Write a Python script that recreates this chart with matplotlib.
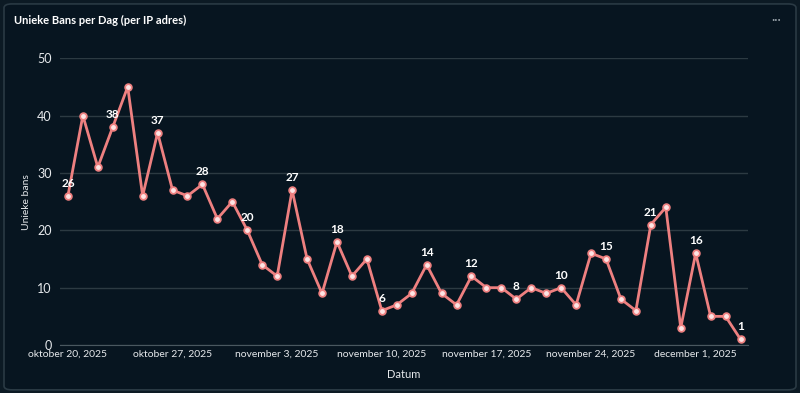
import datetime as dt
import matplotlib
matplotlib.use("Agg")
import matplotlib.pyplot as plt
from matplotlib.patches import FancyBboxPatch

plt.rcParams['font.family'] = ['Lato', 'DejaVu Sans']

start = dt.datetime(2025, 10, 20)
bans = [26, 40, 31, 38, 45, 26, 37, 27, 26, 28, 22, 25, 20, 14, 12, 27, 15, 9,
        18, 12, 15, 6, 7, 9, 14, 9, 7, 12, 10, 10, 8, 10, 9, 10, 7, 16, 15, 8,
        6, 21, 24, 3, 16, 5, 5, 1]
dates = [start + dt.timedelta(days=i) for i in range(len(bans))]

tick_dates = [dt.datetime(2025, 10, 20), dt.datetime(2025, 10, 27), dt.datetime(2025, 11, 3),
              dt.datetime(2025, 11, 10), dt.datetime(2025, 11, 17), dt.datetime(2025, 11, 24),
              dt.datetime(2025, 12, 1)]
tick_labels = ['oktober 20, 2025', 'oktober 27, 2025', 'november 3, 2025',
               'november 10, 2025', 'november 17, 2025', 'november 24, 2025',
               'december 1, 2025']

bg = '#071520'
line_col = '#ee8080'
text_col = '#e6e9ec'
grid_col = '#2c3a42'

fig = plt.figure(figsize=(8, 3.93), dpi=100)
fig.patch.set_facecolor('#0c1a24')
card = FancyBboxPatch((0.005, 0.008), 0.99, 0.982, boxstyle='round,pad=0,rounding_size=0.01',
                      transform=fig.transFigure, facecolor=bg, edgecolor='#2a3a44',
                      linewidth=1.2, zorder=-10)
fig.add_artist(card)

ax = fig.add_axes([0.075, 0.122, 0.86, 0.73])
ax.set_zorder(1)
ax.set_facecolor('none')

ax.plot(dates, bans, color=line_col, linewidth=2, marker='o', markersize=4.8,
        markerfacecolor='#fde4e4', markeredgecolor=line_col, markeredgewidth=1.3, zorder=3)

for i in range(0, len(bans), 3):
    ax.annotate(str(bans[i]), (dates[i], bans[i]), xytext=(0, 5), textcoords='offset points',
                ha='center', va='bottom', color='white', fontsize=8.5, fontweight='bold', zorder=4)

ax.set_ylim(0, 50)
ax.set_yticks([0, 10, 20, 30, 40, 50])
ax.set_xlim(start - dt.timedelta(days=0.53), start + dt.timedelta(days=45.5))
ax.set_xticks(tick_dates)
ax.set_xticklabels(tick_labels)

ax.grid(axis='y', color=grid_col, linewidth=1)
ax.set_axisbelow(True)
for s in ['top', 'right', 'left']:
    ax.spines[s].set_visible(False)
ax.spines['bottom'].set_color('#4a5860')
ax.tick_params(axis='both', length=0, colors=text_col)
ax.tick_params(axis='x', pad=3, labelsize=7.5)
ax.tick_params(axis='y', pad=6, labelsize=9)

ax.set_xlabel('Datum', color=text_col, fontsize=8, labelpad=8)
ax.set_ylabel('Unieke bans', color=text_col, fontsize=7.5, labelpad=4)

fig.text(0.018, 0.948, 'Unieke Bans per Dag (per IP adres)', color='white', fontsize=8,
         fontweight='bold', ha='left', va='center')
fig.text(0.97, 0.948, '···', color='#9aa4ab', fontsize=9, ha='center', va='center')

fig.savefig('out.png', dpi=100, facecolor=fig.get_facecolor())
